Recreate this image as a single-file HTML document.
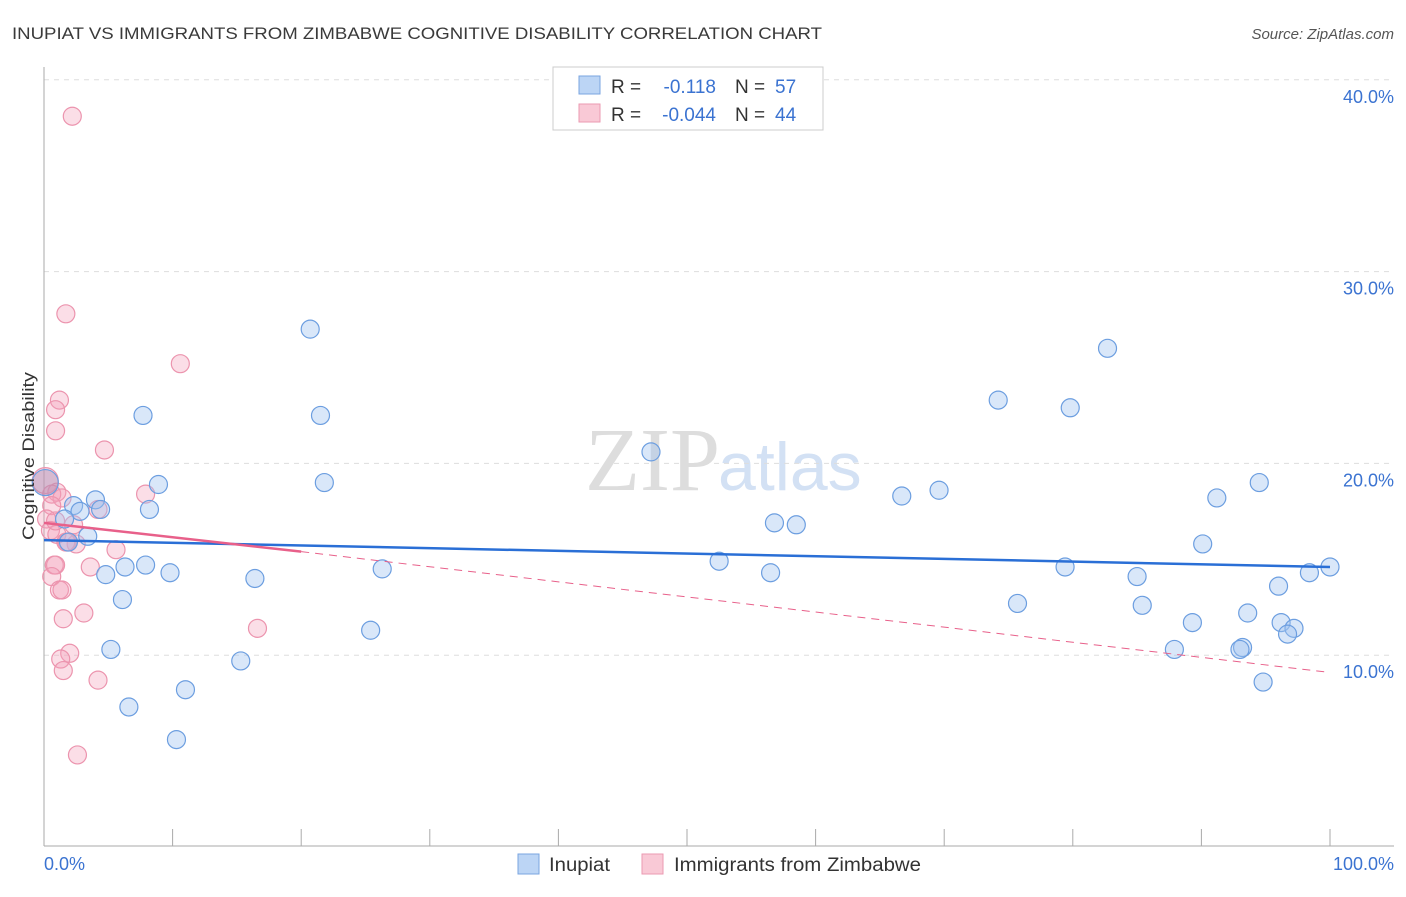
<!DOCTYPE html>
<html><head><meta charset="utf-8"><style>
body{margin:0;background:#fff;font-family:"Liberation Sans",sans-serif}
</style></head><body>
<svg id="c" width="1406" height="892" xmlns="http://www.w3.org/2000/svg">
<text x="12" y="39" font-size="17" fill="#3a3a3a" textLength="810" lengthAdjust="spacingAndGlyphs">INUPIAT VS IMMIGRANTS FROM ZIMBABWE COGNITIVE DISABILITY CORRELATION CHART</text>
<text x="1394" y="39" font-size="15" font-style="italic" fill="#555" text-anchor="end">Source: ZipAtlas.com</text>
<text x="720" y="490" font-size="90" font-family="Liberation Serif,serif" fill="#ddd" text-anchor="end">ZIP</text>
<text x="718" y="490" font-size="68" fill="#d3e1f4">atlas</text>
<g id="grid"></g><g id="pts"></g><g id="lines"></g>
<text transform="translate(34,456) rotate(-90)" font-size="17" fill="#333" text-anchor="middle" textLength="168" lengthAdjust="spacingAndGlyphs">Cognitive Disability</text>
<text x="44" y="870" font-size="18" fill="#3b73d1">0.0%</text>
<text x="1394" y="870" font-size="18" fill="#3b73d1" text-anchor="end">100.0%</text>
<g>
<rect x="553" y="67" width="270" height="63" fill="#fff" stroke="#ccc"/>
<rect x="579" y="76" width="21" height="18" fill="#bcd5f5" stroke="#7aa5e0"/>
<rect x="579" y="104" width="21" height="18" fill="#f9c9d6" stroke="#eb9ab2"/>
<text x="611" y="93" font-size="19" fill="#333">R =</text>
<text x="716" y="93" font-size="19" fill="#3b73d1" text-anchor="end">-0.118</text>
<text x="735" y="93" font-size="19" fill="#333">N =</text>
<text x="775" y="93" font-size="19" fill="#3b73d1">57</text>
<text x="611" y="121" font-size="19" fill="#333">R =</text>
<text x="716" y="121" font-size="19" fill="#3b73d1" text-anchor="end">-0.044</text>
<text x="735" y="121" font-size="19" fill="#333">N =</text>
<text x="775" y="121" font-size="19" fill="#3b73d1">44</text>
</g>
<g>
<rect x="518" y="854" width="21" height="20" fill="#bcd5f5" stroke="#7aa5e0"/>
<text x="549" y="871" font-size="19" fill="#333" textLength="61" lengthAdjust="spacingAndGlyphs">Inupiat</text>
<rect x="642" y="854" width="21" height="20" fill="#f9c9d6" stroke="#eb9ab2"/>
<text x="674" y="871" font-size="19" fill="#333" textLength="247" lengthAdjust="spacingAndGlyphs">Immigrants from Zimbabwe</text>
</g>
</svg>
<script>
const yTicks=[10,20,30,40];
const yTickLabels=["10.0%","20.0%","30.0%","40.0%"];
const blueX=[20.7,7.7,21.5,47.2,8.9,21.8,4.0,2.3,2.8,4.4,8.2,1.6,3.4,1.9,56.8,58.5,66.7,69.6,74.2,79.8,82.7,91.2,94.5,90.1,52.5,56.5,79.4,85.0,100,98.4,96.0,75.7,85.4,93.6,89.3,96.2,97.2,96.7,87.9,93.2,93.0,94.8,6.3,7.9,4.8,9.8,16.4,26.3,6.1,25.4,5.2,15.3,11.0,6.6,10.3,0.1];
const blueY=[27.0,22.5,22.5,20.6,18.9,19.0,18.1,17.8,17.5,17.6,17.6,17.1,16.2,15.9,16.9,16.8,18.3,18.6,23.3,22.9,26.0,18.2,19.0,15.8,14.9,14.3,14.6,14.1,14.6,14.3,13.6,12.7,12.6,12.2,11.7,11.7,11.4,11.1,10.3,10.4,10.3,8.6,14.6,14.7,14.2,14.3,14.0,14.5,12.9,11.3,10.3,9.7,8.2,7.3,5.6,19.0];
const pinkX=[2.2,1.7,10.6,1.2,0.9,0.9,4.7,0.1,1.0,0.6,7.9,1.4,0.6,4.2,0.2,2.3,0.5,1.0,1.8,2.5,5.6,0.8,0.9,3.6,0.6,1.2,1.4,3.1,1.5,16.6,2.0,1.3,1.5,4.2,2.6,1.7,0.9];
const pinkY=[38.1,27.8,25.2,23.3,22.8,21.7,20.7,19.1,18.5,18.4,18.4,18.2,17.8,17.6,17.1,16.8,16.5,16.3,15.9,15.8,15.5,14.7,14.7,14.6,14.1,13.4,13.4,12.2,11.9,11.4,10.1,9.8,9.2,8.7,4.8,15.9,17.0];
const blueTrend=[[0,16.0],[100,14.6]];
const pinkTrend=[[0,16.9],[20,15.4],[100,9.1]];
const X=v=>44+v*12.86, Y=v=>847-v*19.18;
const NS="http://www.w3.org/2000/svg";
function mk(t,a,p){const e=document.createElementNS(NS,t);for(const k in a)e.setAttribute(k,a[k]);document.getElementById(p).appendChild(e);return e;}
yTicks.forEach((t,i)=>{
 const g=mk('line',{x1:44,x2:1394,y1:Y(t),y2:Y(t),stroke:'#ddd','stroke-dasharray':'5,5'},'grid');
 
 
 const l=mk('text',{x:1394,y:Y(t)+23,'font-size':18,fill:'#3b73d1','text-anchor':'end'},'grid');
 l.textContent=yTickLabels[i];
 
 
});
const ax=mk('line',{x1:44,x2:44,y1:67,y2:846,stroke:'#aaa'},'grid');


const bx=mk('line',{x1:44,x2:1394,y1:846,y2:846,stroke:'#aaa'},'grid');


for(let i=1;i<=10;i++){const t=mk('line',{x1:X(i*10),x2:X(i*10),y1:829,y2:846,stroke:'#aaa'},'grid');
 
 }
pinkX.forEach((x,i)=>{const c=mk('circle',{cx:X(x),cy:Y(pinkY[i]),r:i==7?13:9,fill:'rgba(244,160,186,0.35)',stroke:'#ec94ae','stroke-width':1.2},'pts');
 
 });
blueX.forEach((x,i)=>{const c=mk('circle',{cx:X(x),cy:Y(blueY[i]),r:i==55?13:9,fill:i==55?'rgba(170,140,180,0.45)':'rgba(160,195,240,0.4)',stroke:'#6c9ee0','stroke-width':1.2},'pts');
 
 });
const bl=mk('line',{x1:X(blueTrend[0][0]),y1:Y(blueTrend[0][1]),x2:X(blueTrend[1][0]),y2:Y(blueTrend[1][1]),stroke:'#2a6fd6','stroke-width':2.5},'lines');


const ps=mk('line',{x1:X(pinkTrend[0][0]),y1:Y(pinkTrend[0][1]),x2:X(pinkTrend[1][0]),y2:Y(pinkTrend[1][1]),stroke:'#e8608a','stroke-width':2.5},'lines');


const pd=mk('line',{x1:X(pinkTrend[1][0]),y1:Y(pinkTrend[1][1]),x2:X(pinkTrend[2][0]),y2:Y(pinkTrend[2][1]),stroke:'#e8608a','stroke-width':1,'stroke-dasharray':'8,6'},'lines');


</script>
</body></html>
